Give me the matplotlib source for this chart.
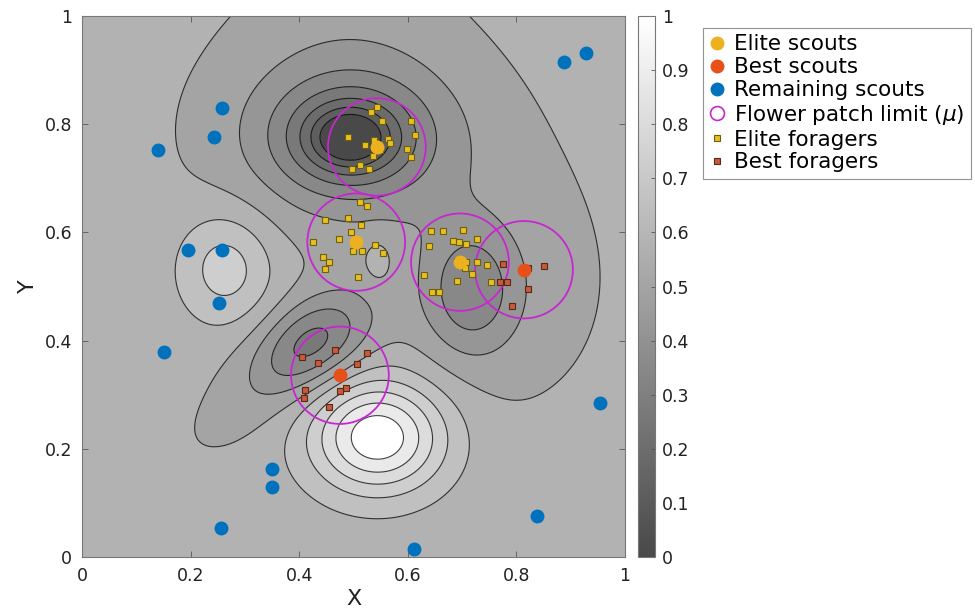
import numpy as np
import matplotlib
matplotlib.use("Agg")
import matplotlib.pyplot as plt
from matplotlib.colors import LinearSegmentedColormap, Normalize
from matplotlib.patches import Circle
from matplotlib.lines import Line2D
from matplotlib.ticker import FuncFormatter
import matplotlib.cm as cm

plt.rcParams['font.family'] = ['DejaVu Sans']

# ---------------- data ----------------
elite_scout_x = [0.543, 0.505, 0.696]
elite_scout_y = [0.758, 0.582, 0.545]
best_scout_x = [0.814, 0.475]
best_scout_y = [0.531, 0.336]
remain_x = [0.140, 0.258, 0.243, 0.195, 0.258, 0.252, 0.151, 0.888, 0.928,
            0.954, 0.350, 0.350, 0.256, 0.838, 0.611]
remain_y = [0.752, 0.830, 0.776, 0.567, 0.567, 0.469, 0.379, 0.915, 0.932,
            0.285, 0.163, 0.129, 0.054, 0.076, 0.015]
patch_radius = 0.09

elite_forager_x = [0.532, 0.543, 0.553, 0.605, 0.613, 0.489, 0.521, 0.538, 0.564,
                   0.567, 0.535, 0.549, 0.599, 0.605, 0.497, 0.512, 0.529,
                   0.512, 0.524, 0.448, 0.489, 0.513, 0.495, 0.474, 0.506, 0.499,
                   0.515, 0.426, 0.540, 0.555, 0.444, 0.454, 0.448, 0.509,
                   0.642, 0.664, 0.702, 0.728, 0.684, 0.695, 0.707, 0.639, 0.691,
                   0.708, 0.728, 0.746, 0.705, 0.718, 0.629, 0.691, 0.753, 0.644, 0.658]
elite_forager_y = [0.823, 0.831, 0.806, 0.806, 0.780, 0.776, 0.762, 0.771, 0.772,
                   0.765, 0.741, 0.752, 0.754, 0.740, 0.717, 0.725, 0.718,
                   0.657, 0.648, 0.622, 0.626, 0.614, 0.600, 0.587, 0.583, 0.566,
                   0.566, 0.583, 0.577, 0.562, 0.555, 0.546, 0.532, 0.517,
                   0.603, 0.603, 0.604, 0.588, 0.585, 0.582, 0.578, 0.574, 0.547,
                   0.546, 0.546, 0.540, 0.535, 0.524, 0.521, 0.510, 0.509, 0.490, 0.489]
best_forager_x = [0.776, 0.822, 0.850, 0.770, 0.783, 0.822, 0.791,
                  0.405, 0.466, 0.525, 0.434, 0.507, 0.487, 0.475, 0.411, 0.408, 0.455]
best_forager_y = [0.541, 0.534, 0.537, 0.509, 0.509, 0.495, 0.464,
                  0.369, 0.383, 0.377, 0.358, 0.356, 0.312, 0.307, 0.309, 0.293, 0.278]

# fitness landscape: baseline plus features (valleys / peaks)
surface_base = 0.57
feat_kind = ['exp', 'gauss', 'gauss', 'gauss', 'gauss', 'gauss', 'gauss', 'gauss', 'gauss']
feat_x = [0.494, 0.49, 0.715, 0.77, 0.425, 0.33, 0.545, 0.265, 0.546]
feat_y = [0.775, 0.97, 0.49, 0.50, 0.397, 0.31, 0.222, 0.535, 0.548]
feat_sx = [0.096, 0.15, 0.058, 0.14, 0.08, 0.13, 0.086, 0.061, 0.022]
feat_sy = [0.072, 0.15, 0.079, 0.17, 0.052, 0.055, 0.072, 0.072, 0.036]
feat_angle = [0, 0, 0, 0, 35, 40, 0, 0, 0]
feat_amp = [-0.85, -0.04, -0.185, -0.07, -0.25, -0.06, 0.42, 0.17, 0.06]

contour_levels = np.arange(1, 13) / 13.0
cbar_ticks = [0, 0.1, 0.2, 0.3, 0.4, 0.5, 0.6, 0.7, 0.8, 0.9, 1]
axis_ticks = [0, 0.2, 0.4, 0.6, 0.8, 1]

# ---------------- surface ----------------
gx = np.linspace(0, 1, 400)
X, Y = np.meshgrid(gx, gx)
Z = np.full_like(X, surface_base)
for kind, cx, cy, sx, sy, ang, a in zip(feat_kind, feat_x, feat_y, feat_sx, feat_sy,
                                        feat_angle, feat_amp):
    t = np.deg2rad(ang)
    dx, dy = X - cx, Y - cy
    u = dx * np.cos(t) + dy * np.sin(t)
    v = -dx * np.sin(t) + dy * np.cos(t)
    q = u**2 / sx**2 + v**2 / sy**2
    if kind == 'exp':
        Z += a * np.exp(-np.sqrt(q))
    else:
        Z += a * np.exp(-0.5 * q)

cmap = LinearSegmentedColormap.from_list('g', [(0.286, 0.286, 0.286), (1.0, 1.0, 1.0)])
norm = Normalize(0, 1)

fig = plt.figure(figsize=(9.75, 6.11), dpi=100)
ax = fig.add_axes([82/975, 1-557/611, 543/975, 541/611])
cax = fig.add_axes([638/975, 1-557/611, 17/975, 541/611])

fill_levels = np.concatenate([[-1], contour_levels, [2]])
ax.contourf(X, Y, Z, levels=fill_levels, cmap=cmap, norm=norm)
ax.contour(X, Y, Z, levels=contour_levels, colors='black', linewidths=0.8, alpha=0.75)

mag = (0.78, 0.15, 0.82)
for cx, cy in zip(elite_scout_x + best_scout_x, elite_scout_y + best_scout_y):
    ax.add_patch(Circle((cx, cy), patch_radius, fill=False, edgecolor=mag, linewidth=1.3, zorder=3))

ax.plot(elite_forager_x, elite_forager_y, 's', ms=4.2, mfc='#E8C020', mec='#6E5E10',
        mew=0.8, ls='none', zorder=4)
ax.plot(best_forager_x, best_forager_y, 's', ms=4.2, mfc='#C65A3A', mec='#5A2818',
        mew=0.8, ls='none', zorder=4)
ax.plot(elite_scout_x, elite_scout_y, 'o', ms=9, color='#EDB120', ls='none', zorder=5)
ax.plot(best_scout_x, best_scout_y, 'o', ms=9, color='#E8501A', ls='none', zorder=5)
ax.plot(remain_x, remain_y, 'o', ms=9, color='#0072BD', ls='none', zorder=5)

ax.set_xlim(0, 1)
ax.set_ylim(0, 1)
fmt = FuncFormatter(lambda v, p: ('%g' % round(v, 2)))
ax.set_xticks(axis_ticks)
ax.set_yticks(axis_ticks)
ax.xaxis.set_major_formatter(fmt)
ax.yaxis.set_major_formatter(fmt)
ax.tick_params(direction='in', length=4, width=0.6, colors='#555555', labelcolor='#222222',
               labelsize=12.5, top=True, right=True, pad=7)
for s in ax.spines.values():
    s.set_color('#777777')
    s.set_linewidth(0.8)
ax.set_xlabel('X', fontsize=16, color='#222222', labelpad=3)
ax.set_ylabel('Y', fontsize=16, color='#222222', labelpad=5)

cb = fig.colorbar(cm.ScalarMappable(norm=norm, cmap=cmap), cax=cax)
cb.set_ticks(cbar_ticks)
cb.ax.yaxis.set_major_formatter(fmt)
cb.ax.tick_params(direction='in', length=3, width=0.6, colors='#555555', labelcolor='#222222',
                  labelsize=12.5, pad=5)
cb.outline.set_edgecolor('#777777')
cb.outline.set_linewidth(0.8)

handles = [
    Line2D([], [], marker='o', ls='none', ms=9, color='#EDB120'),
    Line2D([], [], marker='o', ls='none', ms=9, color='#E8501A'),
    Line2D([], [], marker='o', ls='none', ms=9, color='#0072BD'),
    Line2D([], [], marker='o', ls='none', ms=10, mfc='none', mec=mag, mew=1.2),
    Line2D([], [], marker='s', ls='none', ms=4.2, mfc='#E8C020', mec='#6E5E10', mew=0.8),
    Line2D([], [], marker='s', ls='none', ms=4.2, mfc='#C65A3A', mec='#5A2818', mew=0.8),
]
labels = ['Elite scouts', 'Best scouts', 'Remaining scouts', r'Flower patch limit ($\mu$)',
          'Elite foragers', 'Best foragers']
leg = fig.legend(handles, labels, loc='upper left', bbox_to_anchor=(703/975, 1-28/611),
                 fontsize=15.5, frameon=True, fancybox=False, edgecolor='#777777',
                 handlelength=0.7, handletextpad=0.45, labelspacing=0.13, borderpad=0.3,
                 borderaxespad=0)
leg.get_frame().set_linewidth(0.8)

fig.savefig('out.png', dpi=100)
